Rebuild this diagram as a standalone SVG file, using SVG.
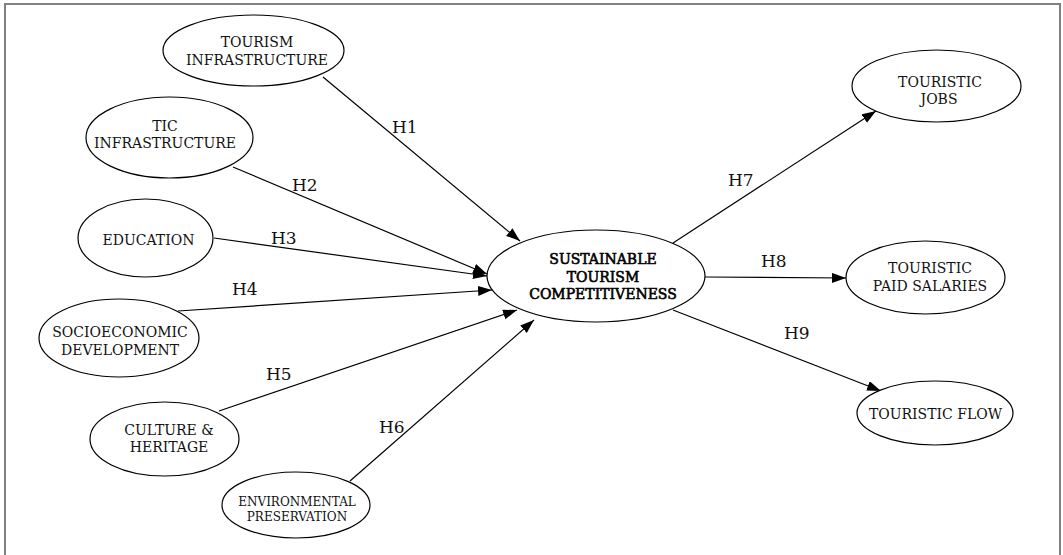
<svg xmlns="http://www.w3.org/2000/svg" width="1063" height="555" viewBox="0 0 1063 555">
<style>
.n ellipse{fill:#fff;stroke:#000;stroke-width:1.2}
.n text{font-family:"DejaVu Serif","Liberation Serif",serif;font-size:14px;fill:#111;text-anchor:middle}
.n text.sm{font-size:12px}
.n text.b{fill:#000;stroke:#000;stroke-width:0.6}
.e line{stroke:#000;stroke-width:1.2;marker-end:url(#ah)}
.e text{font-family:"DejaVu Serif","Liberation Serif",serif;font-size:17px;fill:#111}
</style>
<defs>
<marker id="ah" markerUnits="userSpaceOnUse" markerWidth="15" markerHeight="11" refX="14" refY="5" orient="auto">
<path d="M0,0 L14,5 L0,10 Z" fill="#000"/>
</marker>
</defs>
<rect width="1063" height="555" fill="#fff"/>
<path d="M5,560 V4 H1060 V560" fill="none" stroke="#808080" stroke-width="2"/>
<g class="e" id="connectors">
<line x1="323" y1="77" x2="520" y2="241"/>
<line x1="233" y1="167" x2="487" y2="274"/>
<line x1="214" y1="238" x2="487" y2="276"/>
<line x1="178" y1="311" x2="492" y2="290"/>
<line x1="219" y1="411" x2="517" y2="310"/>
<line x1="350" y1="481" x2="534" y2="320"/>
<line x1="673" y1="243" x2="876" y2="111"/>
<line x1="705" y1="277" x2="846" y2="278"/>
<line x1="673" y1="310" x2="881" y2="391"/>
<text x="392" y="133">H1</text>
<text x="292" y="191">H2</text>
<text x="271" y="244">H3</text>
<text x="232" y="295">H4</text>
<text x="266" y="380">H5</text>
<text x="379" y="433">H6</text>
<text x="728" y="186">H7</text>
<text x="761" y="267">H8</text>
<text x="784" y="339">H9</text>
</g>
<g class="n" id="n1"><ellipse cx="253.5" cy="50.5" rx="90.5" ry="35.5"/><text x="257" y="46.5">TOURISM</text><text x="257" y="65">INFRASTRUCTURE</text></g>
<g class="n" id="n2"><ellipse cx="169.5" cy="137.5" rx="83.5" ry="40.5"/><text x="165" y="131">TIC</text><text x="165" y="148">INFRASTRUCTURE</text></g>
<g class="n" id="n3"><ellipse cx="145.5" cy="238" rx="67.5" ry="39"/><text x="148.5" y="245">EDUCATION</text></g>
<g class="n" id="n4"><ellipse cx="119" cy="338" rx="80" ry="39"/><text x="120" y="337">SOCIOECONOMIC</text><text x="120" y="355">DEVELOPMENT</text></g>
<g class="n" id="n5"><ellipse cx="164.5" cy="439" rx="74.5" ry="37"/><text x="169" y="435">CULTURE &amp;</text><text x="169" y="452">HERITAGE</text></g>
<g class="n" id="n6"><ellipse cx="296" cy="505" rx="74" ry="33"/><text class="sm" x="297" y="506">ENVIRONMENTAL</text><text class="sm" x="297" y="521">PRESERVATION</text></g>
<g class="n" id="n7"><ellipse cx="596" cy="276" rx="109" ry="46"/><text class="b" x="603" y="264">SUSTAINABLE</text><text class="b" x="603" y="282">TOURISM</text><text class="b" x="603" y="299">COMPETITIVENESS</text></g>
<g class="n" id="n8"><ellipse cx="936.5" cy="86" rx="84.5" ry="36"/><text x="940" y="86.5">TOURISTIC</text><text x="939" y="104">JOBS</text></g>
<g class="n" id="n9"><ellipse cx="925.5" cy="277.5" rx="79.5" ry="36.5"/><text x="930" y="273">TOURISTIC</text><text x="930" y="291">PAID SALARIES</text></g>
<g class="n" id="n10"><ellipse cx="935" cy="413" rx="78" ry="32"/><text x="935.5" y="419">TOURISTIC FLOW</text></g>
</svg>
